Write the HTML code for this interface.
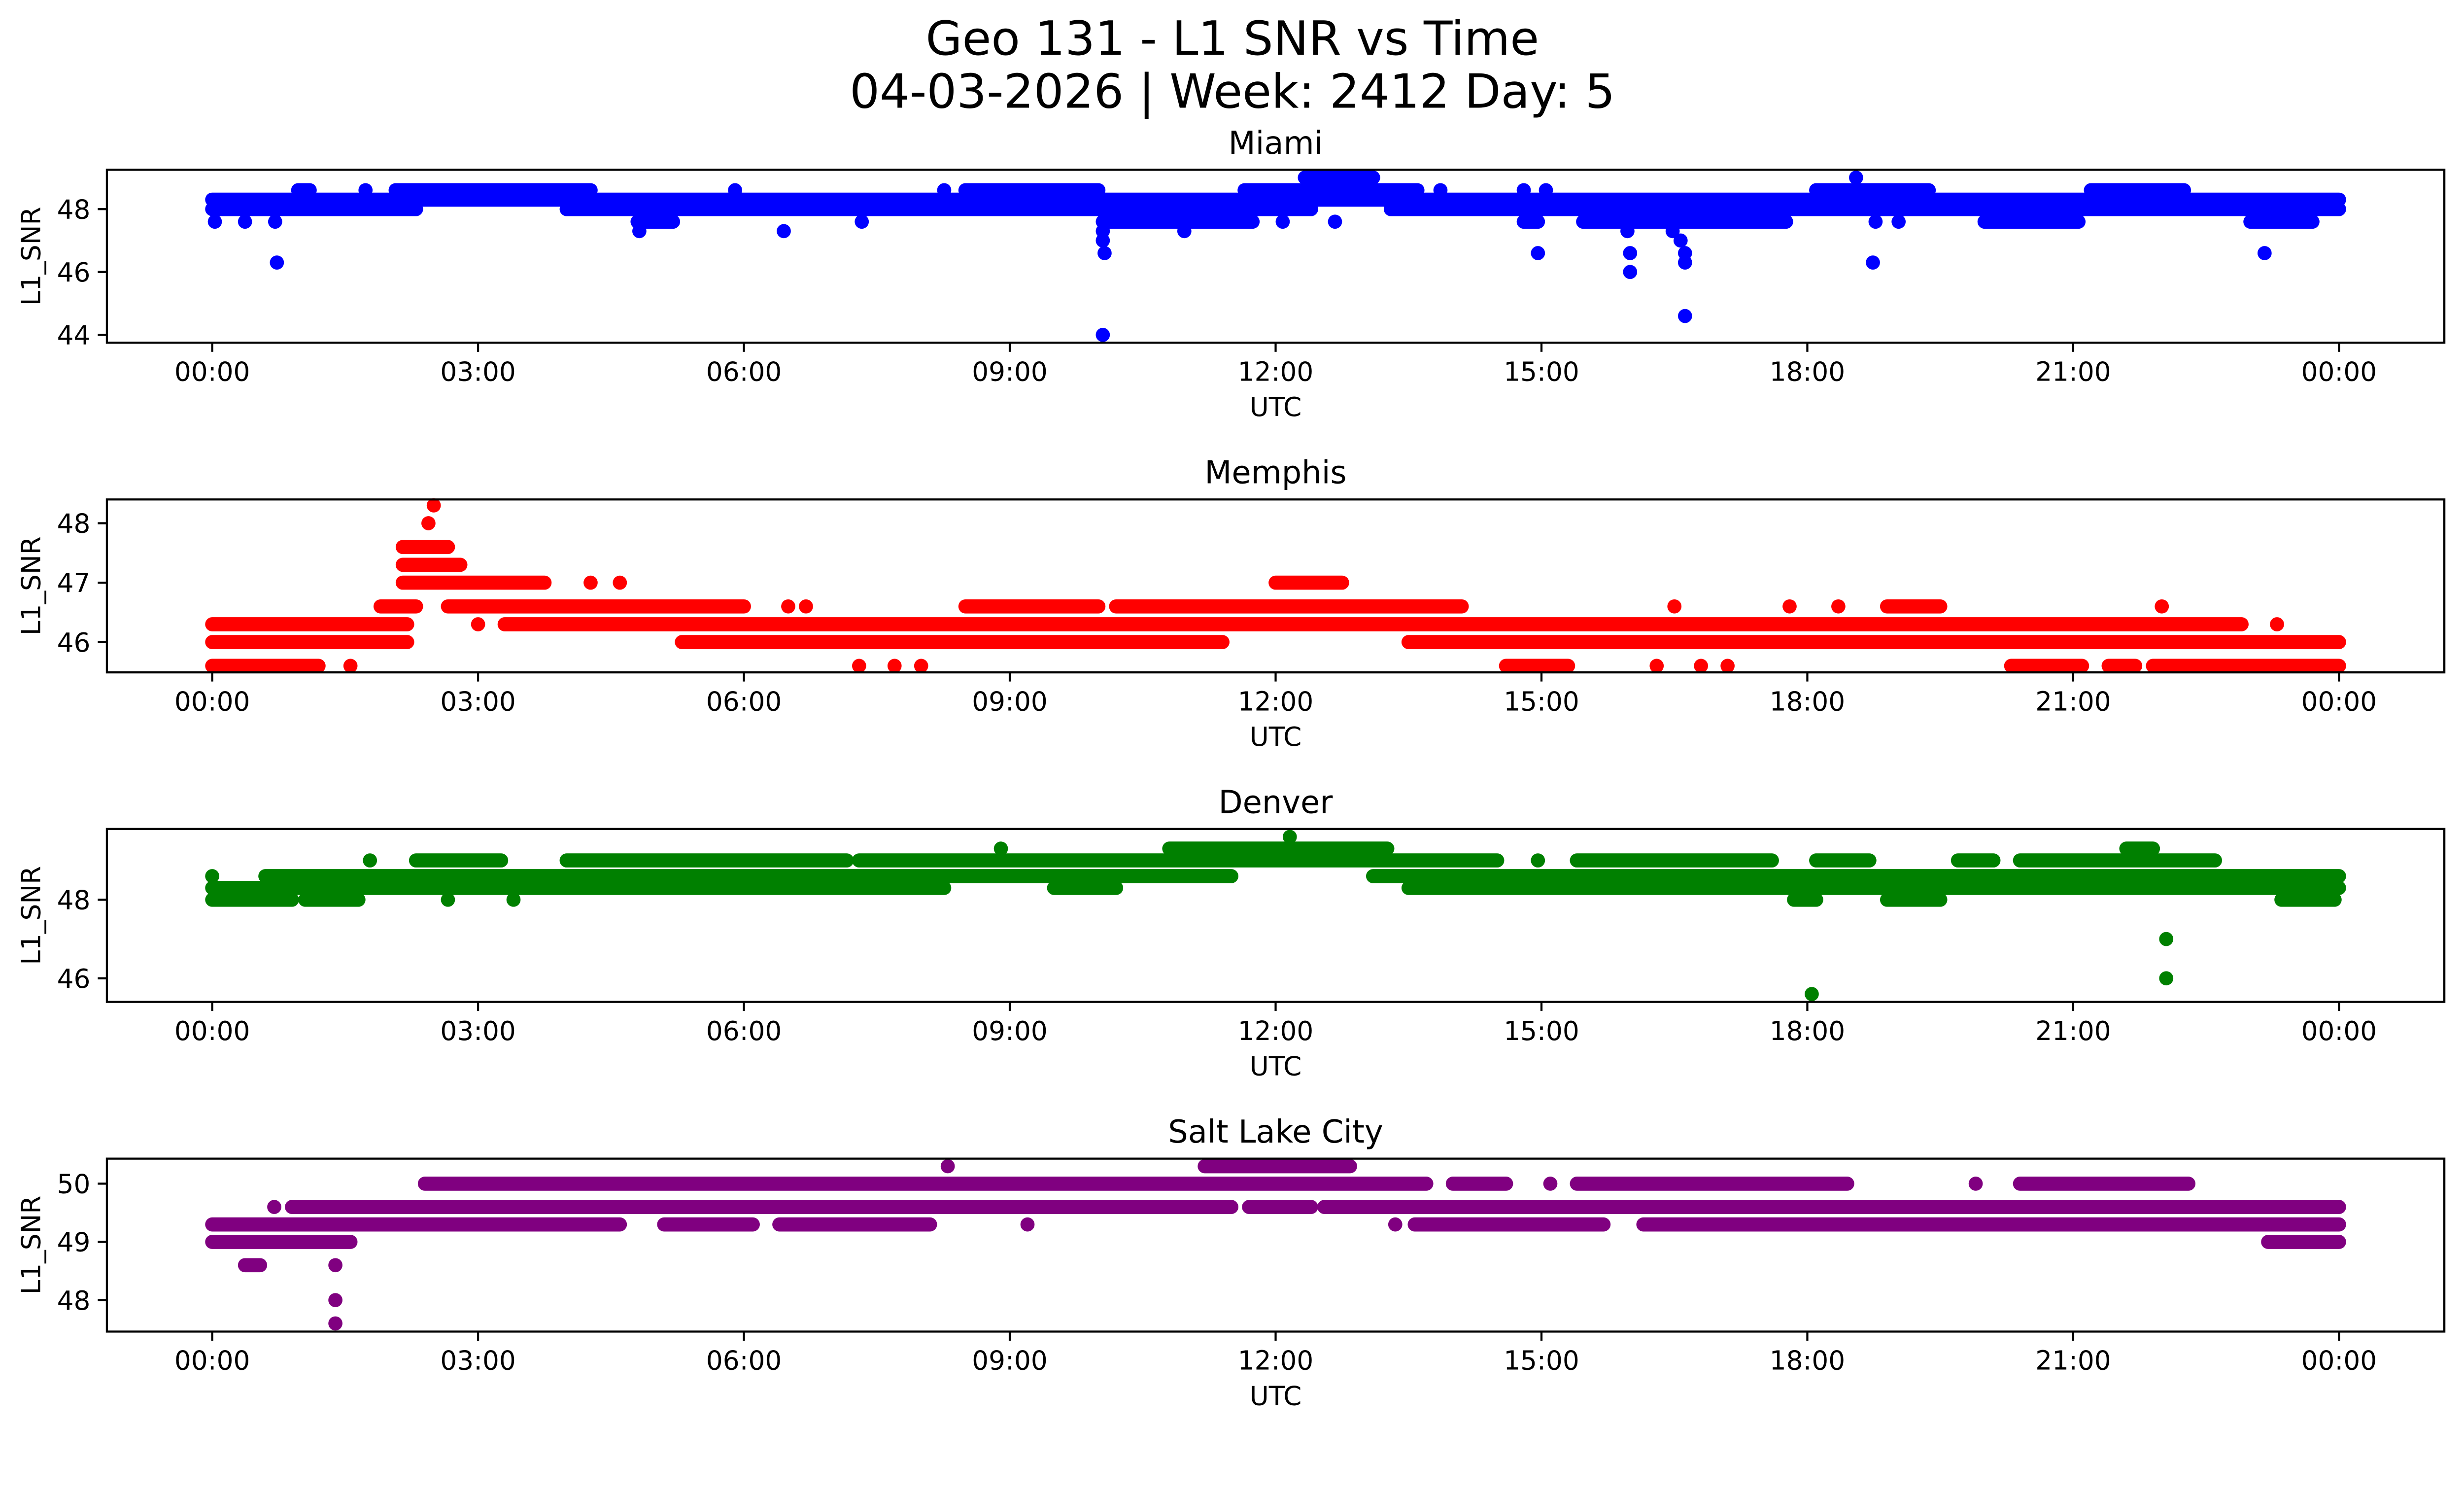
<!DOCTYPE html>
<html><head><meta charset="utf-8"><style>
html,body{margin:0;padding:0;background:#fff;overflow:hidden;}
svg{display:block;width:100vw;height:calc(100vw * 3033 / 5225);font-family:"DejaVu Sans","Liberation Sans",sans-serif;}
</style></head><body>
<svg id="fig" viewBox="0 0 1567.5 910" preserveAspectRatio="none" xmlns="http://www.w3.org/2000/svg">
<rect width="1567.5" height="910" fill="#fff"/>
<text x="784" y="34.8" font-size="30" text-anchor="middle">Geo 131 - L1 SNR vs Time</text>
<text x="784" y="68.5" font-size="30" text-anchor="middle">04-03-2026 | Week: 2412 Day: 5</text>
</svg>
<script>
// Time axis tick labels (hours)
const xTickHours = [0,3,6,9,12,15,18,21,24];
const xTickLabels = ["00:00","03:00","06:00","09:00","12:00","15:00","18:00","21:00","00:00"];

// Miami: bands [start h, end h, SNR]
const miamiStart = [0,4.0,13.3,0,0.97,1.73,2.07,5.9,8.26,8.5,11.65,13.86,14.8,15.05,18.1,21.2,12.33,18.55,0.03,0.37,0.71,4.8,7.33,10.05,12.08,12.67,14.8,15.47,18.77,19.03,20.0,23.0,4.82,6.45,10.97,15.97,16.48,10.05,10.05,16.57,10.07,14.96,16.0,16.62,23.16,0.73,16.62,18.74,16.0,16.62,10.05];
const miamiEnd   = [2.3,12.4,24,24,1.1,1.73,4.27,5.9,8.26,10.0,13.6,13.86,14.8,15.05,19.37,22.25,13.1,18.55,0.03,0.37,0.71,5.2,7.33,11.74,12.08,12.67,14.96,17.76,18.77,19.03,21.06,23.7,4.82,6.45,10.97,15.97,16.48,10.05,10.05,16.57,10.07,14.96,16.0,16.62,23.16,0.73,16.62,18.74,16.0,16.62,10.05];
const miamiSNR   = [48.0,48.0,48.0,48.3,48.6,48.6,48.6,48.6,48.6,48.6,48.6,48.6,48.6,48.6,48.6,48.6,49.0,49.0,47.6,47.6,47.6,47.6,47.6,47.6,47.6,47.6,47.6,47.6,47.6,47.6,47.6,47.6,47.3,47.3,47.3,47.3,47.3,47.3,47.0,47.0,46.6,46.6,46.6,46.6,46.6,46.3,46.3,46.3,46.0,44.6,44.0];

// Memphis
const memphisStart = [0,1.56,7.3,7.7,8.0,14.6,16.3,16.8,17.1,20.3,21.4,21.9, 0,5.3,13.5, 0,3.0,3.3,23.3, 1.9,2.66,6.5,6.7,8.5,10.2,16.5,17.8,18.35,18.9,22.0, 2.15,4.27,4.6,12.0, 2.15,2.15,2.44,2.5];
const memphisEnd   = [1.2,1.56,7.3,7.7,8.0,15.3,16.3,16.8,17.1,21.1,21.7,24, 2.2,11.4,24, 2.2,3.0,22.9,23.3, 2.3,6.0,6.5,6.7,10.0,14.1,16.5,17.8,18.35,19.5,22.0, 3.75,4.27,4.6,12.75, 2.8,2.66,2.44,2.5];
const memphisSNR   = [45.6,45.6,45.6,45.6,45.6,45.6,45.6,45.6,45.6,45.6,45.6,45.6, 46.0,46.0,46.0, 46.3,46.3,46.3,46.3, 46.6,46.6,46.6,46.6,46.6,46.6,46.6,46.6,46.6,46.6,46.6, 47.0,47.0,47.0,47.0, 47.3,47.6,48.0,48.3];

// Denver
const denverStart = [0,1.05,2.66,3.4,17.85,18.9,23.35, 0,9.5,13.5, 0,0.6,13.1, 1.78,2.3,4.0,7.3,14.96,15.4,18.1,19.7,20.4, 8.9,10.8,21.6, 12.16, 18.05,22.05,22.05];
const denverEnd   = [0.9,1.65,2.66,3.4,18.1,19.5,23.95, 8.26,10.2,24, 0,11.5,24, 1.78,3.26,7.16,14.5,14.96,17.6,18.7,20.1,22.6, 8.9,13.26,21.9, 12.16, 18.05,22.05,22.05];
const denverSNR   = [48.0,48.0,48.0,48.0,48.0,48.0,48.0, 48.3,48.3,48.3, 48.6,48.6,48.6, 49.0,49.0,49.0,49.0,49.0,49.0,49.0,49.0,49.0, 49.3,49.3,49.3, 49.6, 45.6,46.0,47.0];

// Salt Lake City
const slcStart = [8.3,11.2, 2.4,14.0,15.1,15.4,19.9,20.4, 0.7,0.9,11.7,12.55, 0,5.1,6.4,9.2,13.35,13.57,16.15, 0,23.2, 0.37,1.39, 1.39,1.39];
const slcEnd   = [8.3,12.84, 13.7,14.6,15.1,18.45,19.9,22.3, 0.7,11.5,12.4,24, 4.6,6.1,8.1,9.2,13.35,15.7,24, 1.56,24, 0.54,1.39, 1.39,1.39];
const slcSNR   = [50.3,50.3, 50.0,50.0,50.0,50.0,50.0,50.0, 49.6,49.6,49.6,49.6, 49.3,49.3,49.3,49.3,49.3,49.3,49.3, 49.0,49.0, 48.6,48.6, 48.0,47.6];

// Y axis ranges and ticks
const miamiYRange = [43.75,49.25];   const miamiYTicks = [44,46,48];
const memphisYRange = [45.49,48.4];  const memphisYTicks = [46,47,48];
const denverYRange = [45.4,49.8];    const denverYTicks = [46,48];
const slcYRange = [47.46,50.43];     const slcYTicks = [48,49,50];

const NS = "http://www.w3.org/2000/svg";
const svg = document.getElementById('fig');
const L = 68, R = 1555, H = 110;
const X0 = 135, X1 = 1488;
function xScale(h){ return X0 + (X1 - X0) * h / 24; }
function el(tag, attrs, parent){ const e = document.createElementNS(NS, tag); for (const k in attrs) e.setAttribute(k, attrs[k]); (parent||svg).appendChild(e); return e; }

const panels = [
  {key:'miami', title:'Miami', color:'#0000ff', top:108, yr:miamiYRange, yt:miamiYTicks, s:miamiStart, e:miamiEnd, v:miamiSNR},
  {key:'memphis', title:'Memphis', color:'#ff0000', top:317.7, yr:memphisYRange, yt:memphisYTicks, s:memphisStart, e:memphisEnd, v:memphisSNR},
  {key:'denver', title:'Denver', color:'#008000', top:527.3, yr:denverYRange, yt:denverYTicks, s:denverStart, e:denverEnd, v:denverSNR},
  {key:'slc', title:'Salt Lake City', color:'#800080', top:737, yr:slcYRange, yt:slcYTicks, s:slcStart, e:slcEnd, v:slcSNR}
];

panels.forEach(p => {
  const g = el('g', {});
  
  
  const top = p.top, bot = p.top + H;
  const yScale = v => bot - (v - p.yr[0]) / (p.yr[1] - p.yr[0]) * H;

  const marks = el('g', {}, g);
  
  
  for (let i = 0; i < p.v.length; i++) {
    const xa = xScale(p.s[i]), xb = xScale(p.e[i]), y = yScale(p.v[i]);
    let m;
    if (Math.abs(xb - xa) < 0.01) {
      m = el('circle', {cx: xa, cy: y, r: 4.5, fill: p.color}, marks);
    } else {
      m = el('line', {x1: xa, x2: xb, y1: y, y2: y, stroke: p.color, 'stroke-width': 9, 'stroke-linecap': 'round'}, marks);
    }
    
    
  }

  const frame = el('rect', {x: L, y: top, width: R - L, height: H, fill: 'none', stroke: '#000', 'stroke-width': 1.33}, g);
  
  

  const t = el('text', {x: (L + R) / 2, y: top - 10.2, 'font-size': 20, 'text-anchor': 'middle'}, g);
  t.textContent = p.title;
  
  

  xTickHours.forEach((h, i) => {
    const x = xScale(h);
    const tk = el('line', {x1: x, x2: x, y1: bot, y2: bot + 5.8, stroke: '#000', 'stroke-width': 1.33}, g);
    
    
    const lb = el('text', {x: x, y: bot + 24.2, 'font-size': 16.7, 'text-anchor': 'middle'}, g);
    lb.textContent = xTickLabels[i];
    
    
  });

  p.yt.forEach(v => {
    const y = yScale(v);
    const tk = el('line', {x1: L - 5.8, x2: L, y1: y, y2: y, stroke: '#000', 'stroke-width': 1.33}, g);
    
    
    const lb = el('text', {x: L - 10.5, y: y + 6, 'font-size': 16.7, 'text-anchor': 'end'}, g);
    lb.textContent = String(v);
    
    
  });

  const xl = el('text', {x: (L + R) / 2, y: bot + 46.7, 'font-size': 16.7, 'text-anchor': 'middle'}, g);
  xl.textContent = 'UTC';
  
  

  const cy = top + H / 2;
  const yl = el('text', {x: 0, y: 0, 'font-size': 16.7, 'text-anchor': 'middle', transform: 'translate(25.5,' + cy + ') rotate(-90)'}, g);
  yl.textContent = 'L1_SNR';
  
  
});
</script>
</body></html>
